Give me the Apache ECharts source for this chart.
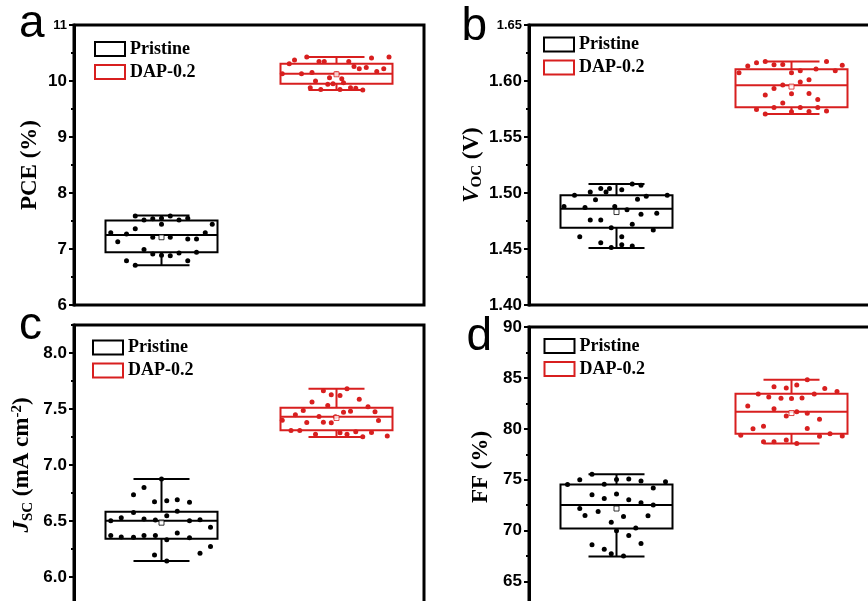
<!DOCTYPE html>
<html>
<head>
<meta charset="utf-8">
<script src="https://cdn.jsdelivr.net/npm/echarts@6/dist/echarts.min.js"></script>
<style>
  html, body { margin: 0; padding: 0; background: #fff; }
  #chart { width: 868px; height: 601px; }
</style>
</head>
<body>
<div id="chart"></div>
<script>
// Device groups
const groups = ['Pristine', 'DAP-0.2'];

// ---- PCE (%) ----
const pcePristine = [7.59, 7.52, 7.54, 7.55, 7.59, 7.52, 7.55, 7.44, 7.44, 7.29, 7.27, 7.29, 7.36, 7.13,
  7.21, 7.21, 7.18, 7.18, 6.99, 6.91, 6.89, 6.88, 6.93, 6.94, 6.79, 6.71, 6.79];
const pcePristineJitter = [-0.15, -0.10, -0.05, 0.00, 0.05, 0.10, 0.15, 0.00, 0.29, -0.29, -0.20, 0.25, -0.15, -0.25,
  -0.05, 0.05, 0.15, 0.20, -0.10, -0.05, 0.00, 0.05, 0.10, 0.20, -0.20, -0.15, 0.15];
const pceDap = [10.43, 10.41, 10.43, 10.375, 10.31, 10.35, 10.35, 10.35, 10.26, 10.22, 10.24, 10.17, 10.22, 10.13,
  10.13, 10.15, 10.13, 10.06, 10.04, 10.00, 9.97, 9.94, 9.95, 9.88, 9.85, 9.85, 9.88, 9.87, 9.84];
const pceDapJitter = [-0.17, 0.20, 0.30, -0.24, -0.27, -0.10, -0.07, 0.07, 0.10, 0.13, 0.17, 0.23, 0.27, -0.31,
  -0.20, -0.14, 0.00, -0.04, 0.03, -0.12, 0.04, -0.05, -0.02, -0.15, -0.09, 0.02, 0.08, 0.11, 0.15];
// [min, Q1, median, Q3, max] per group, and the means
const pceBoxes = [[6.71, 6.94, 7.25, 7.51, 7.60], [9.84, 9.95, 10.13, 10.31, 10.43]];
const pceMeans = [7.21, 10.12];
const pceTicks = [6, 7, 8, 9, 10, 11];
const pceMinorTicks = [6.5, 7.5, 8.5, 9.5, 10.5];

// ---- Voc (V) ----
const vocPristine = [1.504, 1.504, 1.501, 1.503, 1.508, 1.507, 1.501, 1.498, 1.494, 1.4945, 1.497, 1.498, 1.488, 1.487,
  1.488, 1.485, 1.481, 1.482, 1.476, 1.476, 1.469, 1.472, 1.467, 1.461, 1.461, 1.4556, 1.4537, 1.4526, 1.4513];
const vocPristineJitter = [-0.09, -0.04, -0.06, 0.03, 0.09, 0.14, -0.15, -0.24, -0.12, 0.12, 0.17, 0.29, -0.30, -0.18,
  -0.01, 0.06, 0.14, 0.23, -0.15, -0.09, -0.03, 0.09, 0.21, -0.21, 0.03, -0.09, 0.03, 0.09, -0.03];
const vocDap = [1.6163, 1.6173, 1.6133, 1.6145, 1.6147, 1.6173, 1.614, 1.6073, 1.6073, 1.6091, 1.6108, 1.6091, 1.5991,
  1.6012, 1.5965, 1.5932, 1.5875, 1.5887, 1.5889, 1.5835, 1.5804, 1.5764, 1.5764, 1.5764, 1.5728, 1.5733, 1.5746,
  1.5706, 1.5726];
const vocDapJitter = [-0.20, -0.15, -0.25, -0.10, -0.05, 0.20, 0.29, -0.30, 0.00, 0.05, 0.14, 0.25, 0.05,
  0.10, -0.05, -0.10, -0.15, 0.00, 0.10, 0.15, -0.05, -0.10, 0.05, 0.15, 0.10, 0.20, -0.20,
  -0.15, 0.00];
const vocBoxes = [[1.451, 1.469, 1.486, 1.498, 1.508], [1.5706, 1.5766, 1.5963, 1.6106, 1.6173]];
const vocMeans = [1.483, 1.595];
const vocTicks = [1.40, 1.45, 1.50, 1.55, 1.60, 1.65];
const vocMinorTicks = [1.425, 1.475, 1.525, 1.575, 1.625];

// ---- Jsc (mA cm-2) ----
const jscPristine = [6.876, 6.80, 6.735, 6.671, 6.681, 6.69, 6.668, 6.577, 6.586, 6.547, 6.503, 6.529, 6.518, 6.509,
  6.503, 6.512, 6.445, 6.393, 6.371, 6.358, 6.354, 6.371, 6.371, 6.333, 6.351, 6.273, 6.211, 6.196, 6.143];
const jscPristineJitter = [0.00, -0.10, -0.16, -0.04, 0.03, 0.09, 0.16, -0.16, 0.09, 0.03, -0.29, -0.23, -0.10, -0.035,
  0.16, 0.22, 0.28, 0.09, -0.29, -0.23, -0.16, -0.10, -0.035, 0.03, 0.16, 0.28, 0.22, -0.04, 0.03];
const jscDap = [7.68, 7.662, 7.628, 7.621, 7.586, 7.5625, 7.531, 7.521, 7.487, 7.471, 7.48, 7.476, 7.449, 7.434,
  7.431, 7.40, 7.379, 7.382, 7.378, 7.398, 7.309, 7.309, 7.275, 7.288, 7.275, 7.296, 7.253, 7.291, 7.259];
const jscDapJitter = [0.06, -0.075, -0.03, 0.02, 0.13, -0.14, -0.05, 0.18, -0.19, 0.04, 0.08, 0.22, -0.235, -0.10,
  -0.006, -0.31, -0.17, -0.075, -0.03, 0.24, -0.26, -0.21, -0.12, 0.02, 0.06, 0.11, 0.15, 0.20, 0.29];
const jscBoxes = [[6.143, 6.342, 6.503, 6.583, 6.876], [7.25, 7.311, 7.431, 7.512, 7.68]];
const jscMeans = [6.485, 7.42];
const jscTicks = [6.0, 6.5, 7.0, 7.5, 8.0];
const jscMinorTicks = [5.75, 6.25, 6.75, 7.25, 7.75, 8.25];

// ---- FF (%) ----
const ffPristine = [75.55, 74.99, 75.03, 75.06, 74.87, 74.79, 74.52, 74.55, 74.18, 73.52, 73.61, 73.15, 73.03, 72.74,
  72.53, 72.17, 71.87, 71.48, 71.40, 71.45, 70.82, 70.27, 69.98, 69.52, 68.73, 68.61, 68.16, 67.72, 67.51];
const ffPristineJitter = [-0.14, -0.21, 0.00, 0.07, 0.14, 0.28, -0.28, -0.07, 0.21, -0.14, 0.00, -0.07, 0.07, 0.14,
  0.21, -0.21, -0.105, -0.18, 0.04, 0.18, -0.03, 0.11, 0.00, 0.07, 0.14, -0.14, -0.07, -0.03, 0.04];
const ffDap = [84.83, 84.12, 84.01, 84.31, 83.95, 83.67, 83.43, 83.13, 83.01, 82.98, 83.03, 83.41, 82.25, 81.98,
  81.25, 81.67, 81.52, 80.93, 80.25, 80.00, 80.04, 79.36, 79.28, 79.51, 79.30, 78.72, 78.72, 78.89, 78.55];
const ffDapJitter = [0.09, -0.10, -0.03, 0.03, 0.19, 0.26, -0.19, -0.13, -0.06, 0.00, 0.06, 0.13, -0.25, -0.10,
  -0.03, 0.03, 0.09, 0.16, -0.16, -0.22, 0.09, -0.29, 0.16, 0.22, 0.29, -0.16, -0.10, -0.03, 0.03];
const ffBoxes = [[67.46, 70.21, 72.53, 74.52, 75.55], [78.55, 79.51, 81.67, 83.45, 84.83]];
const ffMeans = [72.17, 81.55];
const ffTicks = [65, 70, 75, 80, 85, 90];
const ffMinorTicks = [62.5, 67.5, 72.5, 77.5, 82.5, 87.5];

// ---- styling / layout ----
const COLORS = ['#000000', '#d81f1f'];
const SERIF = '"Liberation Serif", "Times New Roman", serif';
const SANS = '"Liberation Sans", Arial, sans-serif';
const BOX_HALF = 0.32;   // half box width, in group units
const CAP_HALF = 0.16;   // half whisker-cap width

const nameRich = {
  n: { fontFamily: SERIF, fontWeight: 'bold', fontSize: 23, lineHeight: 26, color: '#000' },
  i: { fontFamily: SERIF, fontWeight: 'bold', fontStyle: 'italic', fontSize: 23, lineHeight: 26, color: '#000' },
  s: { fontFamily: SERIF, fontWeight: 'bold', fontSize: 15, lineHeight: 15, verticalAlign: 'bottom', padding: [15, 0, 0, 0], color: '#000' },
  p: { fontFamily: SERIF, fontWeight: 'bold', fontSize: 15, lineHeight: 15, verticalAlign: 'top', padding: [0, 0, 15, 0], color: '#000' }
};

const panels = [
  { letter: 'a', left: 74, top: 25, min: 6, max: 11, ticks: pceTicks, minor: pceMinorTicks, digits: 0,
    name: '{n|PCE (%)}', nameGap: 31,
    pristine: pcePristine, pristineJitter: pcePristineJitter, dap: pceDap, dapJitter: pceDapJitter,
    boxes: pceBoxes, means: pceMeans, legendLeft: 94, legendTop: 40, letterX: 19, letterY: 24.6 },
  { letter: 'b', left: 529, top: 25, min: 1.40, max: 1.65, ticks: vocTicks, minor: vocMinorTicks, digits: 2,
    name: '{i|V}{s|OC}{n| (V)}', nameGap: 42,
    pristine: vocPristine, pristineJitter: vocPristineJitter, dap: vocDap, dapJitter: vocDapJitter,
    boxes: vocBoxes, means: vocMeans, legendLeft: 543, legendTop: 35.5, letterX: 461.5, letterY: 26.9 },
  { letter: 'c', left: 74, top: 325, min: 5.75, max: 8.25, ticks: jscTicks, minor: jscMinorTicks, digits: 1,
    name: '{i|J}{s|SC}{n| (mA cm}{p|-2}{n|)}', nameGap: 36,
    pristine: jscPristine, pristineJitter: jscPristineJitter, dap: jscDap, dapJitter: jscDapJitter,
    boxes: jscBoxes, means: jscMeans, legendLeft: 92, legendTop: 338.5, letterX: 19, letterY: 325.9 },
  { letter: 'd', left: 529, top: 327, min: 62.5, max: 90, ticks: ffTicks, minor: ffMinorTicks, digits: 0,
    name: '{n|FF (%)}', nameGap: 35,
    pristine: ffPristine, pristineJitter: ffPristineJitter, dap: ffDap, dapJitter: ffDapJitter,
    boxes: ffBoxes, means: ffMeans, legendLeft: 543.5, legendTop: 337, letterX: 466.5, letterY: 337.2 }
];

function renderBox(params, api) {
  const x = api.value(0);
  const mn = api.value(1), q1 = api.value(2), md = api.value(3), q3 = api.value(4), mx = api.value(5);
  const c = (dx, v) => api.coord([x + dx, v]);
  const col = api.visual('color');
  const lineStyle = { stroke: col, lineWidth: 2, fill: null };
  const seg = (a, b) => ({ type: 'line', shape: { x1: a[0], y1: a[1], x2: b[0], y2: b[1] }, style: lineStyle });
  const tl = c(-BOX_HALF, q3), br = c(BOX_HALF, q1);
  return {
    type: 'group',
    children: [
      { type: 'rect', shape: { x: tl[0], y: tl[1], width: br[0] - tl[0], height: br[1] - tl[1] },
        style: { stroke: col, lineWidth: 2, fill: 'rgba(0,0,0,0)' } },
      seg(c(-BOX_HALF, md), c(BOX_HALF, md)),
      seg(c(0, q3), c(0, mx)),
      seg(c(0, q1), c(0, mn)),
      seg(c(-CAP_HALF, mx), c(CAP_HALF, mx)),
      seg(c(-CAP_HALF, mn), c(CAP_HALF, mn))
    ]
  };
}

const option = {
  animation: false,
  backgroundColor: '#fff',
  grid: [], xAxis: [], yAxis: [], series: [], legend: [], graphic: []
};

panels.forEach((p, k) => {
  option.grid.push({
    left: p.left, top: p.top, width: 350, height: 280,
    show: true, borderColor: '#000', borderWidth: 3, backgroundColor: 'rgba(0,0,0,0)',
    containLabel: false, outerBoundsMode: 'none'
  });
  option.xAxis.push({ type: 'value', gridIndex: k, min: -0.5, max: 1.5, show: false });

  const topVal = p.ticks[p.ticks.length - 1];
  const smallTop = (p.letter === 'a' || p.letter === 'b');
  option.yAxis.push({
    type: 'value', gridIndex: k, position: 'left', min: p.min, max: p.max,
    name: p.name, nameLocation: 'middle', nameRotate: 90, nameGap: p.nameGap,
    nameTextStyle: { fontFamily: SERIF, fontWeight: 'bold', fontSize: 23, color: '#000', rich: nameRich },
    axisLine: { show: true, onZero: false, lineStyle: { color: '#000', width: 3 } },
    axisTick: { show: true, inside: false, length: 5, lineStyle: { color: '#000', width: 2 }, customValues: p.ticks },
    splitLine: { show: false },
    axisLabel: {
      customValues: p.ticks, margin: 7, color: '#000', fontFamily: SANS, fontWeight: 'bold', fontSize: 17,
      formatter: (v) => {
        const t = Number(v).toFixed(p.digits);
        return (smallTop && Math.abs(v - topVal) < 1e-9) ? '{s|' + t + '}' : t;
      },
      rich: { s: { fontFamily: SANS, fontWeight: 'bold', fontSize: 13, color: '#000' } }
    }
  });
  option.yAxis.push({
    type: 'value', gridIndex: k, position: 'left', min: p.min, max: p.max,
    axisLine: { show: false, onZero: false },
    axisTick: { show: true, inside: false, length: 3, lineStyle: { color: '#000', width: 2 }, customValues: p.minor },
    axisLabel: { show: false },
    splitLine: { show: false }
  });
  const yIdx = 2 * k;

  const sets = [[p.pristine, p.pristineJitter], [p.dap, p.dapJitter]];
  groups.forEach((g, gi) => {
    option.series.push({
      type: 'custom', name: g, xAxisIndex: k, yAxisIndex: yIdx,
      itemStyle: { color: COLORS[gi] },
      data: [[gi].concat(p.boxes[gi])],
      renderItem: renderBox, z: 2, silent: true
    });
  });
  groups.forEach((g, gi) => {
    const [vals, jit] = sets[gi];
    option.series.push({
      type: 'scatter', name: g, xAxisIndex: k, yAxisIndex: yIdx,
      symbol: 'circle', symbolSize: 5,
      itemStyle: { color: COLORS[gi], opacity: 1 },
      data: vals.map((v, i) => [gi + jit[i], v]),
      z: 3, silent: true
    });
    option.series.push({
      type: 'scatter', name: g + ' mean', xAxisIndex: k, yAxisIndex: yIdx,
      symbol: 'rect', symbolSize: 5,
      itemStyle: { color: '#fff', borderColor: COLORS[gi], borderWidth: 1 },
      data: [[gi, p.means[gi]]],
      z: 4, silent: true
    });
  });

  option.legend.push({
    orient: 'vertical', left: p.legendLeft, top: p.legendTop, padding: 0,
    itemWidth: 30, itemHeight: 14, itemGap: 5, selectedMode: false,
    textStyle: { fontFamily: SERIF, fontWeight: 'bold', fontSize: 18, color: '#000' },
    data: groups.map((g, gi) => ({
      name: g, icon: 'rect',
      itemStyle: { color: 'rgba(0,0,0,0)', borderColor: COLORS[gi], borderWidth: 2 }
    }))
  });

  option.graphic.push({
    type: 'text', x: p.letterX, y: p.letterY, z: 10,
    style: { text: p.letter, font: '46px ' + SANS, fill: '#000', verticalAlign: 'middle', align: 'left' }
  });
});

const chart = echarts.init(document.getElementById('chart'), null, { renderer: 'canvas' });
chart.setOption(option);
</script>
</body>
</html>
